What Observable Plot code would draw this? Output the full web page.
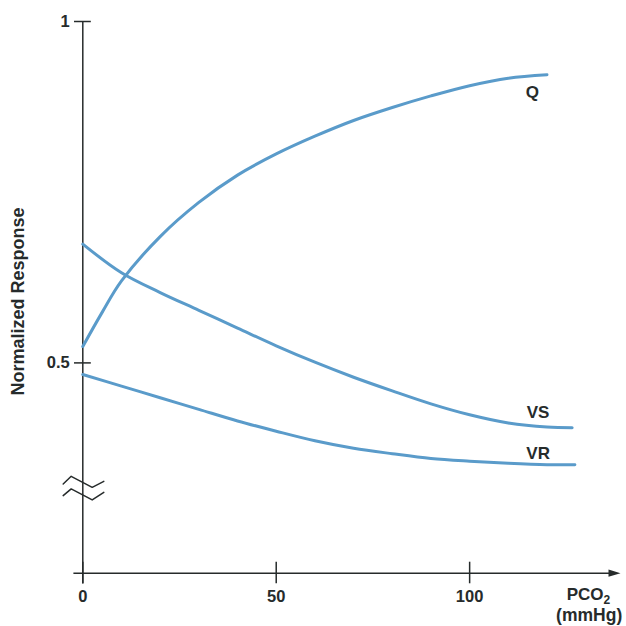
<!DOCTYPE html>
<html>
<head>
<meta charset="utf-8">
<script src="https://cdn.jsdelivr.net/npm/d3@7"></script>
<script src="https://cdn.jsdelivr.net/npm/@observablehq/plot@0.6"></script>
<style>
  html, body { margin: 0; padding: 0; background: #fff; }
  #chart svg { display: block; overflow: visible; }
</style>
</head>
<body>
<div id="chart"></div>
<script>
// ---- data ----
const pco2Q = [0, 5, 10, 20, 30, 40, 50, 60, 70, 80, 90, 100, 110, 120];
const valQ  = [0.524, 0.574, 0.620, 0.685, 0.735, 0.775, 0.806, 0.832, 0.855, 0.874, 0.891, 0.906, 0.917, 0.922];

const pco2VS = [0, 10, 20, 30, 40, 50, 60, 70, 80, 90, 100, 110, 120, 126.5];
const valVS  = [0.674, 0.632, 0.603, 0.577, 0.551, 0.525, 0.501, 0.479, 0.459, 0.440, 0.424, 0.412, 0.406, 0.405];

const pco2VR = [0, 10, 20, 30, 40, 50, 60, 70, 80, 90, 100, 110, 120, 127.2];
const valVR  = [0.483, 0.466, 0.449, 0.432, 0.415, 0.400, 0.386, 0.375, 0.367, 0.360, 0.356, 0.353, 0.351, 0.351];

const xTicks = [0, 50, 100];
const yTicks = [0.5, 1];
const yTickLabels = ["0.5", "1"];

const seriesNames = ["Q", "VS", "VR"];
const labelX = [116.2, 117.7, 117.7];
const labelY = [0.896, 0.4276, 0.3667];

// axis-break zigzag (two strokes) in data units
const breakX  = [-5.07, -3.0, 2.43, 5.43];
const breakY1 = [0.3227, 0.3339, 0.3178, 0.3265];
const breakY2 = [0.3056, 0.3154, 0.2993, 0.3104];

const xMax = 139;
const yMin = 0.192;

// ---- build tables ----
const toRows = (xs, ys, name) => xs.map((x, i) => ({x, y: ys[i], name}));
const curves = [
  ...toRows(pco2Q, valQ, "Q"),
  ...toRows(pco2VS, valVS, "VS"),
  ...toRows(pco2VR, valVR, "VR")
];
const labels = seriesNames.map((n, i) => ({name: n, x: labelX[i], y: labelY[i]}));
const breaks = [
  ...toRows(breakX, breakY1, "a"),
  ...toRows(breakX, breakY2, "b")
];

const ink = "#262b2b";
const blue = "#5a9bca";
const font = "Liberation Sans, Arial, Helvetica, sans-serif";

const arrowHead = {
  draw(ctx) {
    ctx.moveTo(0, 0);
    ctx.lineTo(-12, -3.6);
    ctx.lineTo(-12, 3.6);
    ctx.closePath();
  }
};

const plot = Plot.plot({
  width: 626,
  height: 626,
  marginTop: 21,
  marginBottom: 53.3,
  marginLeft: 82.3,
  marginRight: 6,
  x: {domain: [0, xMax], axis: null},
  y: {domain: [yMin, 1], axis: null},
  style: {fontFamily: font, background: "#fff"},
  marks: [
    // y axis line
    Plot.ruleX([0], {y1: 0.1763, y2: 1, stroke: ink, strokeWidth: 1.5}),
    // x axis line + arrow head
    Plot.ruleY([yMin], {x1: -2.3, x2: xMax - 2, stroke: ink, strokeWidth: 1.5}),
    Plot.dot([{x: xMax, y: yMin}], {x: "x", y: "y", symbol: arrowHead, r: 5, fill: ink, stroke: "none"}),
    // ticks
    Plot.ruleY(yTicks, {x1: -2.15, x2: 2.2, stroke: ink, strokeWidth: 1.5}),
    Plot.ruleX(xTicks, {y1: 0.1765, y2: 0.2081, stroke: ink, strokeWidth: 1.5}),
    // tick labels
    Plot.text(xTicks, {x: d => d, y: yMin, text: d => String(d), dy: 23.5, fontSize: 16.5, fontWeight: "bold", fill: ink}),
    Plot.text(yTicks, {x: 0, y: d => d, text: (d, i) => yTickLabels[i], dx: -13, textAnchor: "end", fontSize: 16.5, fontWeight: "bold", fill: ink}),
    // axis break
    Plot.line(breaks, {x: "x", y: "y", z: "name", stroke: ink, strokeWidth: 1.5, curve: "linear"}),
    // curves
    Plot.line(curves, {x: "x", y: "y", z: "name", stroke: blue, strokeWidth: 3, curve: "catmull-rom"}),
    // curve labels
    Plot.text(labels, {x: "x", y: "y", text: "name", fontSize: 17, fontWeight: "bold", fill: ink}),
    // axis titles
    Plot.text(["PCO2"], {x: 130.7, y: yMin, text: d => d, dy: 21, fontSize: 17, fontWeight: "bold", fill: ink, className: "pco2"}),
    Plot.text(["(mmHg)"], {x: 130.9, y: yMin, text: d => d, dy: 42.5, fontSize: 17.5, fontWeight: "bold", fill: ink}),
    Plot.text(["Normalized Response"], {x: -16.6, y: 0.59, text: d => d, rotate: -90, fontSize: 18, fontWeight: "bold", fill: ink})
  ]
});

// render the "2" of PCO2 as a subscript
plot.querySelectorAll("g.pco2 text").forEach(t => {
  if (t.textContent === "PCO2") {
    t.textContent = "PCO";
    const sub = document.createElementNS("http://www.w3.org/2000/svg", "tspan");
    sub.setAttribute("font-size", "12");
    sub.setAttribute("dy", "4");
    sub.textContent = "2";
    t.appendChild(sub);
  }
});

document.getElementById("chart").appendChild(plot);
</script>
</body>
</html>
